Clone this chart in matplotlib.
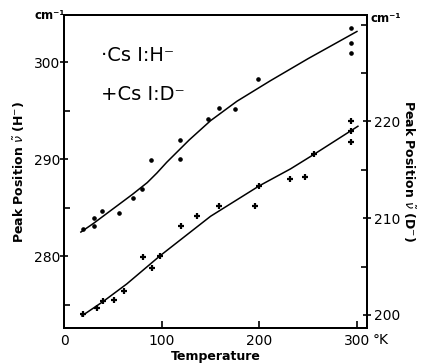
import matplotlib
matplotlib.use("Agg")
import matplotlib.pyplot as plt
from matplotlib.ticker import MultipleLocator

# CsI:H- peak position (left axis, cm-1)
temp_h = [19, 30, 30, 39, 56, 70, 80, 89, 119, 119, 147, 159, 175, 199, 294, 294, 294]
peak_h = [282.8, 284.0, 283.1, 284.7, 284.5, 286.0, 286.9, 289.9, 290.0, 292.0,
          294.2, 295.3, 295.2, 298.3, 303.6, 302.0, 301.0]

# CsI:D- peak position (right axis, cm-1)
temp_d = [19, 34, 40, 51, 61, 81, 90, 98, 120, 136, 159, 195, 200, 231, 247, 256, 294, 294, 294]
peak_d = [200.1, 200.7, 201.4, 201.5, 202.5, 206.0, 204.9, 206.1, 209.2, 210.2,
          211.3, 211.3, 213.3, 214.0, 214.3, 216.6, 220.0, 219.0, 217.9]

# hand drawn guide curves
curve_h_t = [17, 30, 50, 70, 85, 95, 105, 128, 150, 177, 211, 250, 300]
curve_h_v = [282.5, 283.4, 284.9, 286.4, 287.6, 288.6, 289.7, 292.0, 294.0, 296.0, 298.1, 300.4, 303.2]
curve_d_t = [18, 40, 64, 98, 150, 200, 232, 256, 301]
curve_d_v = [199.9, 201.4, 203.2, 206.1, 210.2, 213.35, 215.1, 216.6, 219.5]

fig = plt.figure(figsize=(4.21, 3.64), dpi=100)
ax = fig.add_axes([0.1527, 0.0989, 0.7183, 0.8599])
ax2 = ax.twinx()

ax.plot(curve_h_t, curve_h_v, color='black', lw=1.1)
ax.plot(temp_h, peak_h, 'o', color='black', ms=2.3, ls='none')
ax2.plot(curve_d_t, curve_d_v, color='black', lw=1.1)
ax2.plot(temp_d, peak_d, '+', color='black', ms=4.5, mew=1.6, ls='none')

ax.set_xlim(0, 310)
ax.set_ylim(272.6, 304.9)
ax2.set_ylim(198.65, 231.0)

ax.set_xticks([0, 100, 200, 300])
ax.set_yticks([280, 290, 300])
ax.yaxis.set_minor_locator(MultipleLocator(5))
ax2.set_yticks([200, 210, 220])
ax2.yaxis.set_minor_locator(MultipleLocator(5))

ax.tick_params(axis='x', direction='in', length=5, width=1.2, labelsize=10, pad=4)
ax.tick_params(axis='y', which='major', direction='inout', length=6, width=1.2, labelsize=10, pad=0)
ax.tick_params(axis='y', which='minor', direction='in', length=4, width=1.2)
ax2.tick_params(axis='y', which='major', direction='inout', length=6, width=1.2, labelsize=10, pad=2)
ax2.tick_params(axis='y', which='minor', direction='in', length=4, width=1.2)

for a in (ax, ax2):
    for s in a.spines.values():
        s.set_linewidth(1.4)

ax.set_xlabel('Temperature', fontsize=9, fontweight='bold', labelpad=2)
ax.set_ylabel(r'Peak Position $\tilde{\nu}$ (H$^{-}$)', fontsize=9, fontweight='bold', labelpad=5)
ax2.set_ylabel(r'Peak Position $\tilde{\nu}$ (D$^{-}$)', fontsize=9, fontweight='bold',
               rotation=-90, labelpad=12)

fig.text(0.155, 0.958, 'cm⁻¹', fontsize=8.5, fontweight='bold', ha='right', va='center')
fig.text(0.88, 0.948, 'cm⁻¹', fontsize=8.5, fontweight='bold', ha='left', va='center')
fig.text(0.884, 0.066, '°K', fontsize=10, ha='left', va='center')

ax.text(0.12, 0.87, '·Cs I:H⁻', transform=ax.transAxes, fontsize=14, va='center')
ax.text(0.12, 0.745, '+Cs I:D⁻', transform=ax.transAxes, fontsize=14, va='center')

fig.savefig('out.png', dpi=100)
